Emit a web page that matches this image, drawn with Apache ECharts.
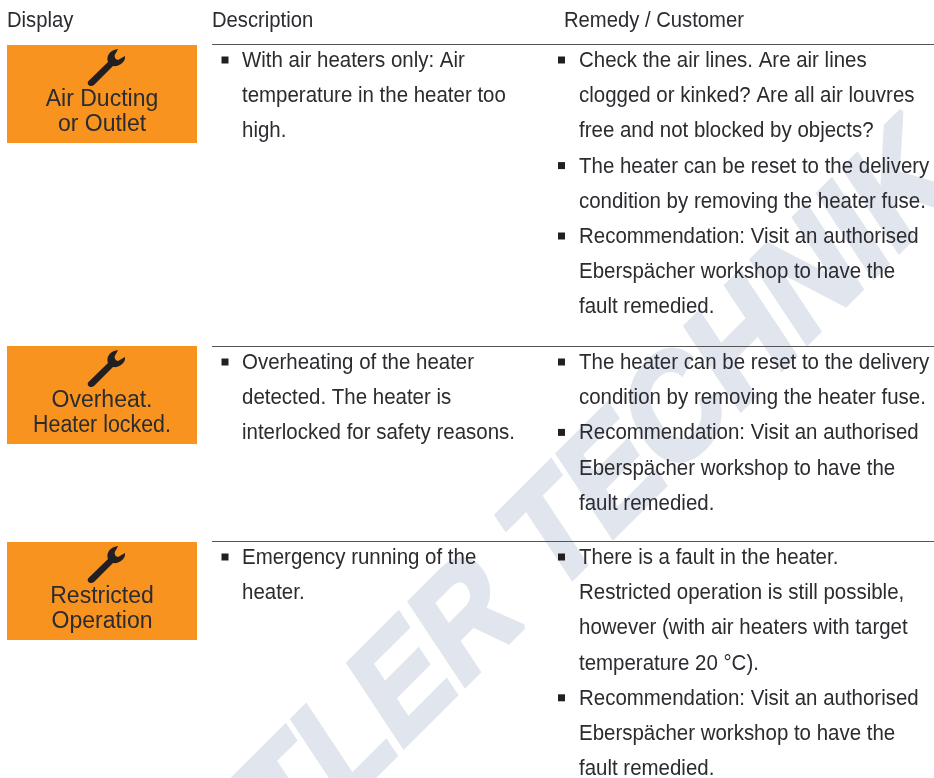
<!DOCTYPE html>
<html>
<head>
<meta charset="utf-8">
<style>html,body{margin:0;padding:0;background:#fff}#main{width:934px;height:778px}</style>
<script src="https://cdn.jsdelivr.net/npm/echarts@6/dist/echarts.min.js"></script>
</head>
<body>
<div id="main"></div>
<script>
// table content
var headers = ['Display', 'Description', 'Remedy / Customer']
var displayLabels = [['Air Ducting', 'or Outlet'], ['Overheat.', 'Heater locked.'], ['Restricted', 'Operation']]
var descriptions = [
  [['With air heaters only: Air', 'temperature in the heater too', 'high.']],
  [['Overheating of the heater', 'detected. The heater is', 'interlocked for safety reasons.']],
  [['Emergency running of the', 'heater.']]
]
var remedies = [
  [
    ['Check the air lines. Are air lines', 'clogged or kinked? Are all air louvres', 'free and not blocked by objects?'],
    ['The heater can be reset to the delivery', 'condition by removing the heater fuse.'],
    ['Recommendation: Visit an authorised', 'Eberspächer workshop to have the', 'fault remedied.']
  ],
  [
    ['The heater can be reset to the delivery', 'condition by removing the heater fuse.'],
    ['Recommendation: Visit an authorised', 'Eberspächer workshop to have the', 'fault remedied.']
  ],
  [
    ['There is a fault in the heater.', 'Restricted operation is still possible,', 'however (with air heaters with target', 'temperature 20 °C).'],
    ['Recommendation: Visit an authorised', 'Eberspächer workshop to have the', 'fault remedied.']
  ]
]
var watermark = 'BUTLER TECHNIK'

// layout
var lineYs = [44, 346, 541]
var boxTops = [45, 346, 542]
var textTops = [61, 363, 558]
var lineH = 35.2
var textColor = '#2b2b30'
var bodyFont = '22px "Liberation Sans"'
var bodyScale = 0.93
var boxFont = '23px "Liberation Sans"'
var wrenchPath = 'M1.5 33 L21 14 C19 9 22 2 31 1 L29 5 C27 7 27 11 31 12 L38 8 C39 14 32 19 26 18 L7 37 C3 40 -1 36 1.5 33 Z'

echarts.graphic.registerShape('wrench', echarts.graphic.extendPath(wrenchPath))

var chart = echarts.init(document.getElementById('main'), null, { renderer: 'canvas' })
var els = []

function addText (x, y, str, font, align, sx) {
  els.push({
    type: 'text', x: x, y: y, z: 5, scaleX: sx || 1,
    style: { text: str, font: font, fill: textColor, textAlign: align || 'left', textVerticalAlign: 'middle' }
  })
}

function addColumn (blocks, top, bulletX, textX) {
  var y = top
  blocks.forEach(function (block) {
    els.push({ type: 'rect', z: 5, shape: { x: bulletX, y: y - 4.5, width: 7, height: 7 }, style: { fill: '#231f20' } })
    block.forEach(function (line) {
      addText(textX, y, line, bodyFont, 'left', bodyScale)
      y += lineH
    })
  })
}

addText(7, 21, headers[0], bodyFont, 'left', 0.92)
addText(212, 21, headers[1], bodyFont, 'left', 0.92)
addText(564, 21, headers[2], bodyFont, 'left', 0.92)

lineYs.forEach(function (lineY, i) {
  els.push({ type: 'line', z: 4, shape: { x1: 212, y1: lineY + 0.5, x2: 934, y2: lineY + 0.5 }, style: { stroke: '#555', lineWidth: 1 } })
  var boxTop = boxTops[i]
  els.push({ type: 'rect', z: 3, shape: { x: 7, y: boxTop, width: 190, height: 98 }, style: { fill: '#f7931e' } })
  els.push({ type: 'wrench', z: 5, x: 87, y: boxTop + 3, style: { fill: '#231f20' } })
  addText(102, boxTop + 55, displayLabels[i][0], boxFont, 'center')
  addText(102, boxTop + 80, displayLabels[i][1], boxFont, 'center', i === 1 ? 0.93 : 1)
  addColumn(descriptions[i], textTops[i], 221.5, 242)
  addColumn(remedies[i], textTops[i], 558, 579)
})

chart.setOption({ animation: false, backgroundColor: '#fff', graphic: { elements: els } })

// the graphic option drops skew, so the sheared watermark goes straight on the zrender layer
chart.getZr().add(new echarts.graphic.Text({
  x: 534, y: 561, rotation: Math.PI / 4, skewX: -0.2, scaleX: 0.915, z: 1,
  style: { text: watermark, font: 'bold 142px "Liberation Sans"', fill: '#e1e6ee', stroke: '#e1e6ee', lineWidth: 5, align: 'center', verticalAlign: 'middle' }
}))
</script>
</body>
</html>
